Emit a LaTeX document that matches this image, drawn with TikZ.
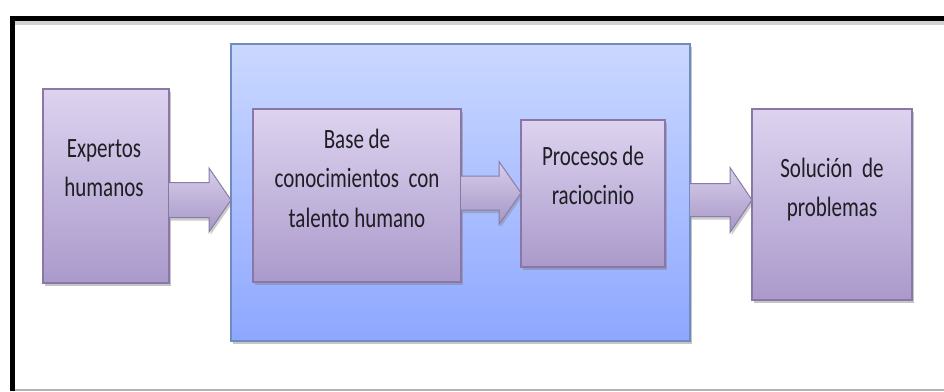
\documentclass[tikz,border=0pt]{standalone}
\usepackage{fontspec}
\setmainfont{Carlito}
\usetikzlibrary{calc,shadows}
\definecolor{pTop}{HTML}{DDD3EF}
\definecolor{pBot}{HTML}{AA9ACB}
\definecolor{pLine}{HTML}{8B76A8}
\definecolor{bTop}{HTML}{CAD8FF}
\definecolor{bBot}{HTML}{8EA7FF}
\definecolor{bLine}{HTML}{6F8CC0}
\definecolor{aTop}{HTML}{D8CEEA}
\definecolor{aBot}{HTML}{A596C6}
\definecolor{aLine}{HTML}{8A7CA6}
\definecolor{txtc}{HTML}{1E1E24}
\newcommand\tx[1]{\scalebox{1}[1.33]{\begin{tabular}{@{}c@{}}#1\end{tabular}}}
\newcommand\fatarrow[5]{%
  \draw[arr] ($(#1|-#2)+(0,-#3)$) -- ($(#2)+(-#5,-#3)$) -- ($(#2)+(-#5,-#4)$) -- (#2)
     -- ($(#2)+(-#5,#4)$) -- ($(#2)+(-#5,#3)$) -- ($(#1|-#2)+(0,#3)$);}
\tikzset{
  pbox/.style={rectangle, draw=pLine, line width=1.2pt, top color=pTop, bottom color=pBot,
     inner sep=0pt, outer sep=0pt,
     drop shadow={shadow xshift=1.5pt, shadow yshift=-3pt, opacity=0.45}},
  bbox/.style={rectangle, draw=bLine, line width=1.2pt, top color=bTop, bottom color=bBot,
     inner sep=0pt, outer sep=0pt,
     drop shadow={shadow xshift=1.5pt, shadow yshift=-3pt, opacity=0.45}},
  arr/.style={draw=aLine, line width=1pt, top color=aTop, bottom color=aBot, line join=miter,
     drop shadow={shadow xshift=1.5pt, shadow yshift=-3pt, opacity=0.4}},
  txt/.style={text=txtc, font=\fontsize{21}{30}\selectfont, inner sep=0pt}
}
\begin{document}
\begin{tikzpicture}[x=1pt,y=-1pt]
\useasboundingbox (0,0) rectangle (944,391);
\fill[white] (0,0) rectangle (944,391);
% outer frame
\fill[black!35, opacity=0.5] (15,21) rectangle (944,25);
\draw[black!30, line width=1.5pt] (13,390) -- (944,390);
\draw[black, line width=5pt] (12.5,391) -- (12.5,18) -- (950,18);
% boxes
\node[bbox, minimum width=459pt, minimum height=297pt] (blue) at (460.5,192.5) {};
\node[pbox, minimum width=126pt, minimum height=194pt] (exp) at (106,186) {};
\node[pbox, minimum width=208pt, minimum height=173pt] (base) at (357,195.5) {};
\node[pbox, minimum width=144pt, minimum height=147pt] (proc) at (593,193.5) {};
\node[pbox, minimum width=160pt, minimum height=191pt] (sol) at (832,204.5) {};
% texts
\node[txt] (expT) at (104,169) {\tx{Expertos\\humanos}};
\node[txt] (baseT) at (357,180) {\tx{Base de\\conocimientos\ \ con\\talento humano}};
\node[txt] (procT) at (593,177) {\tx{Procesos de\\raciocinio}};
\node[txt] (solT) at (832,189) {\tx{Solución\ \ de\\problemas}};
% arrows
\coordinate (t1) at (blue.west |- 0,200);
\coordinate (t2) at (proc.west |- 0,193);
\coordinate (t3) at (sol.west |- 0,200);
\fatarrow{exp.east}{t1}{17.5}{32}{22}
\fatarrow{base.east}{t2}{17}{31.5}{22}
\fatarrow{blue.east}{t3}{16.5}{32.5}{22}
\end{tikzpicture}
\end{document}
